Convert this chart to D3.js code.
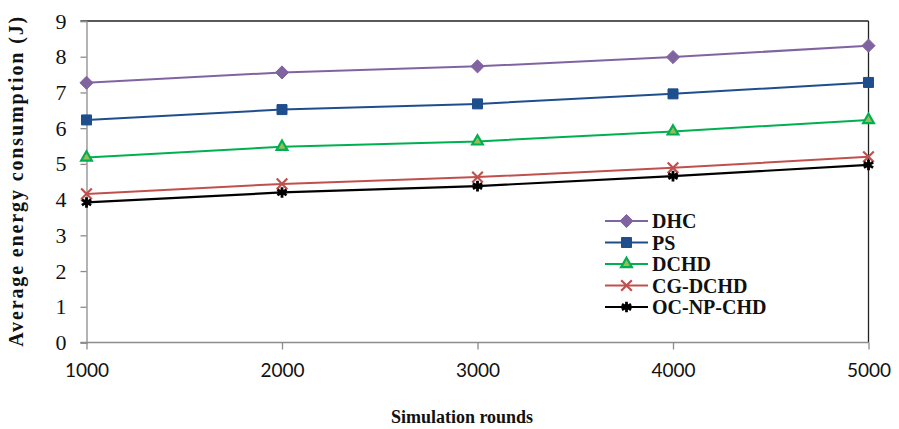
<!DOCTYPE html>
<html>
<head>
<meta charset="utf-8">
<script src="https://cdn.jsdelivr.net/npm/d3@7"></script>
<style>
  body { margin: 0; background: #fff; }
  svg { display: block; }
</style>
</head>
<body>
<div id="chart"></div>
<script>
const width = 899,
  height = 429,
  margin = { top: 21, bottom: 86.5, left: 86.5, right: 30.5 };

const rounds = [1000, 2000, 3000, 4000, 5000];
const yTicks = [0, 1, 2, 3, 4, 5, 6, 7, 8, 9];
const seriesNames = ["DHC", "PS", "DCHD", "CG-DCHD", "OC-NP-CHD"];
const dhc = [7.27, 7.56, 7.73, 7.99, 8.31];
const ps = [6.23, 6.52, 6.68, 6.96, 7.28];
const dchd = [5.18, 5.48, 5.63, 5.91, 6.23];
const cgDchd = [4.16, 4.44, 4.63, 4.89, 5.2];
const ocNpChd = [3.92, 4.2, 4.38, 4.66, 4.97];

const colors = ["#8064a2", "#1f4e8c", "#00b050", "#c0504d", "#000000"];
const symbols = [d3.symbolDiamond2, d3.symbolSquare, d3.symbolTriangle, d3.symbolX, d3.symbolAsterisk];

const series = seriesNames.map((name, i) => ({
  name,
  color: colors[i],
  symbol: symbols[i],
  values: [dhc, ps, dchd, cgDchd, ocNpChd][i]
}));

const svg = d3.select("#chart")
  .append("svg")
  .attr("width", width)
  .attr("height", height);

const x = d3.scaleLinear()
  .domain([1000, 5000])
  .range([margin.left, width - margin.right]);

const y = d3.scaleLinear()
  .domain([0, 9])
  .range([height - margin.bottom, margin.top]);

// frame: top and right black, left and bottom grey
svg.append("line")
  .attr("x1", x(1000) - 6).attr("x2", x(5000))
  .attr("y1", y(9)).attr("y2", y(9))
  .attr("stroke", "#222").attr("stroke-width", 1.3);
svg.append("line")
  .attr("x1", x(5000)).attr("x2", x(5000))
  .attr("y1", y(9)).attr("y2", y(0))
  .attr("stroke", "#222").attr("stroke-width", 1.3);

const yAxis = svg.append("g")
  .attr("transform", `translate(${x(1000)},0)`)
  .call(d3.axisLeft(y).tickValues(yTicks).tickSize(6).tickPadding(14));
yAxis.select(".domain").attr("stroke", "#8c8c8c").attr("stroke-width", 1.3);
yAxis.selectAll(".tick line").attr("stroke", "#8c8c8c").attr("stroke-width", 1.3);
yAxis.selectAll(".tick text")
  .attr("font-family", "'Liberation Serif', 'Times New Roman', serif")
  .attr("font-size", 22)
  .attr("fill", "#111");

const xAxis = svg.append("g")
  .attr("transform", `translate(0,${y(0)})`)
  .call(d3.axisBottom(x).tickValues(rounds).tickFormat(d3.format("d"))
    .tickSize(7).tickPadding(14).tickSizeOuter(0));
xAxis.select(".domain").attr("stroke", "#8c8c8c").attr("stroke-width", 1.3)
  .attr("d", `M${x(1000) - 6},0H${x(5000)}`);
xAxis.selectAll(".tick line").attr("stroke", "#8c8c8c").attr("stroke-width", 1.3);
xAxis.selectAll(".tick text")
  .attr("font-family", "Lato, 'Open Sans', sans-serif")
  .attr("font-size", 19)
  .attr("fill", "#111");

const line = d3.line()
  .x((d, i) => x(rounds[i]))
  .y(d => y(d));

const markerSize = { "DHC": 110, "PS": 100, "DCHD": 50, "CG-DCHD": 75, "OC-NP-CHD": 80 };

function drawMarker(g, s, cx, cy) {
  const path = d3.symbol().type(s.symbol).size(markerSize[s.name])();
  const m = g.append("path")
    .attr("d", path)
    .attr("transform", `translate(${cx},${cy})`);
  if (s.name === "DCHD") {
    m.attr("fill", "#9bbb59").attr("stroke", s.color).attr("stroke-width", 2.2);
  } else if (s.name === "CG-DCHD" || s.name === "OC-NP-CHD") {
    m.attr("fill", "none").attr("stroke", s.color).attr("stroke-width", s.name === "OC-NP-CHD" ? 2.8 : 2.2);
  } else {
    m.attr("fill", s.color).attr("stroke", s.color).attr("stroke-width", 1);
  }
}

series.forEach(s => {
  const g = svg.append("g");
  g.append("path")
    .datum(s.values)
    .attr("d", line)
    .attr("fill", "none")
    .attr("stroke", s.color)
    .attr("stroke-width", s.name === "OC-NP-CHD" ? 2.2 : 2);
  s.values.forEach((v, i) => drawMarker(g, s, x(rounds[i]), y(v)));
});

// legend
const legend = svg.append("g");
series.forEach((s, i) => {
  const ly = 221 + i * 21.5;
  legend.append("line")
    .attr("x1", 605).attr("x2", 648)
    .attr("y1", ly).attr("y2", ly)
    .attr("stroke", s.color).attr("stroke-width", 2);
  drawMarker(legend, s, 626.5, ly);
  legend.append("text")
    .attr("x", 652)
    .attr("y", ly)
    .attr("dy", "0.35em")
    .attr("font-family", "'Liberation Serif', 'Times New Roman', serif")
    .attr("font-weight", "bold")
    .attr("font-size", 20)
    .attr("fill", "#111")
    .text(s.name);
});

// axis titles
svg.append("text")
  .attr("transform", `translate(23,${(y(0) + y(9)) / 2 + 0}) rotate(-90)`)
  .attr("text-anchor", "middle")
  .attr("font-family", "'Liberation Serif', 'Times New Roman', serif")
  .attr("font-weight", "bold")
  .attr("font-size", 20)
  .attr("textLength", 330)
  .attr("lengthAdjust", "spacing")
  .attr("fill", "#111")
  .text("Average energy consumption (J)");

svg.append("text")
  .attr("x", 462)
  .attr("y", 423)
  .attr("text-anchor", "middle")
  .attr("font-family", "'Liberation Serif', 'Times New Roman', serif")
  .attr("font-weight", "bold")
  .attr("font-size", 18)
  .attr("fill", "#111")
  .text("Simulation rounds");
</script>
</body>
</html>
